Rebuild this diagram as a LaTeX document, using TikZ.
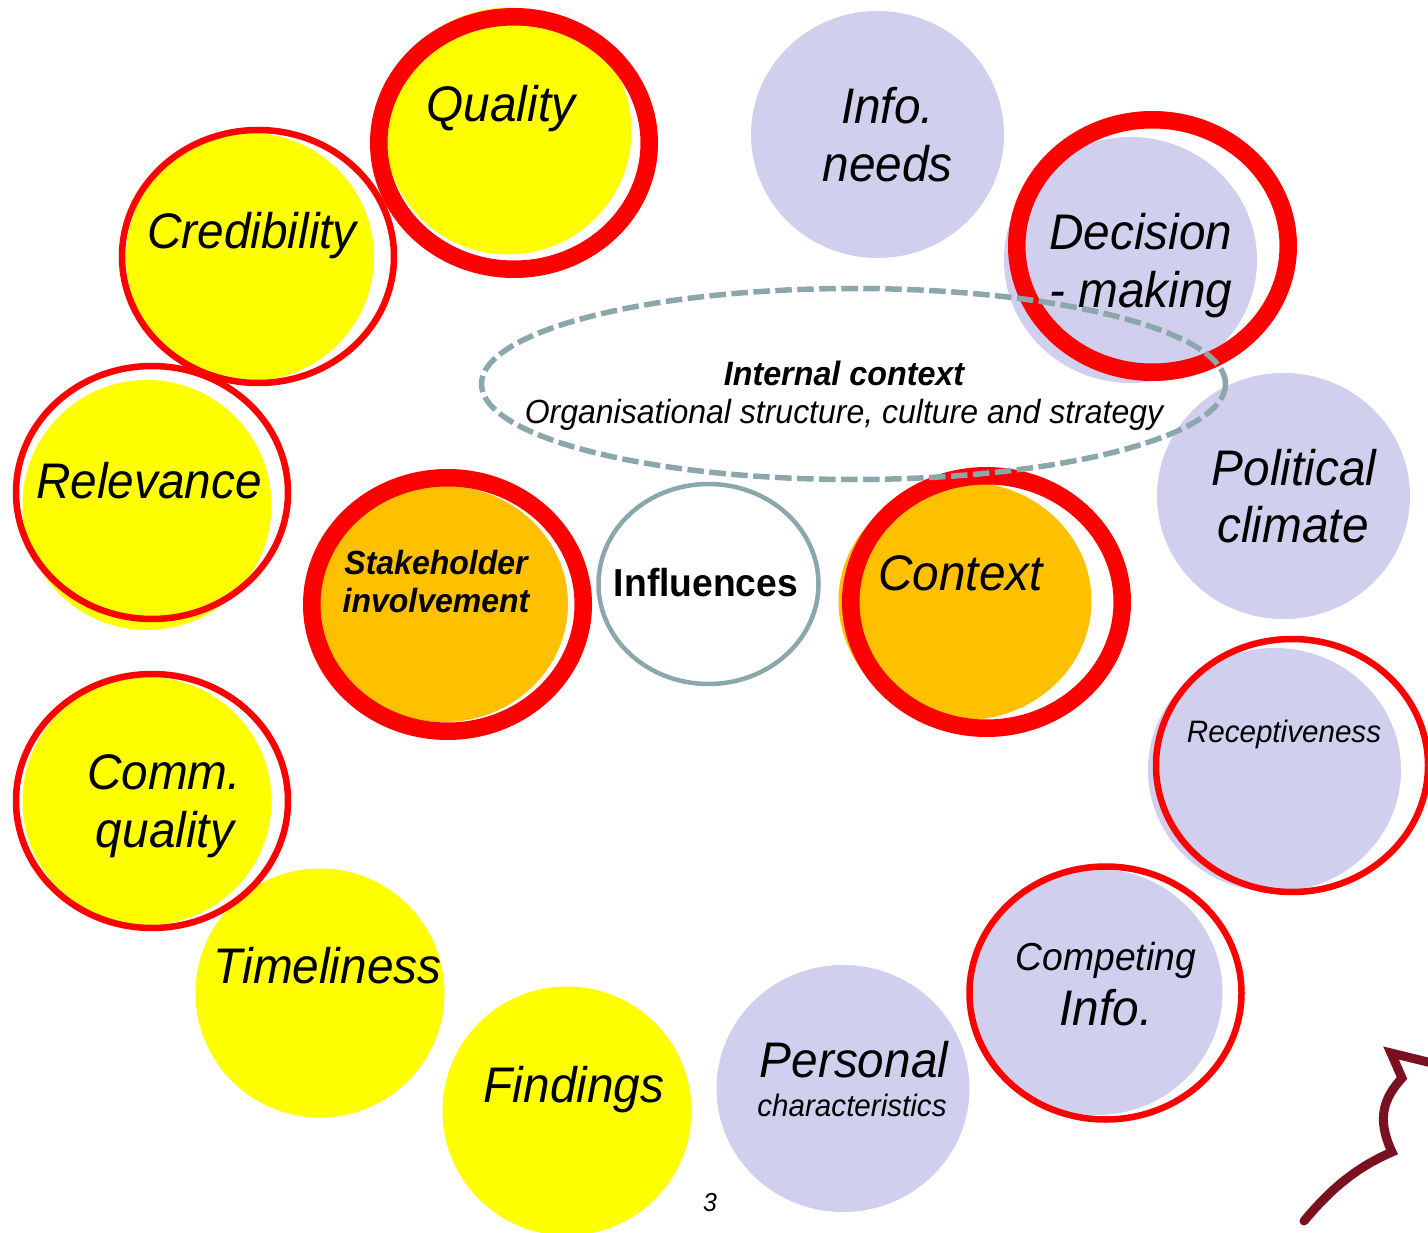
\documentclass[tikz,border=0pt]{standalone}
\usepackage{fontspec}
\setmainfont[FakeStretch=0.955]{Liberation Sans}
\definecolor{yel}{RGB}{255,255,0}
\definecolor{lav}{RGB}{208,208,238}
\definecolor{org}{RGB}{255,192,0}
\definecolor{rred}{RGB}{255,0,0}
\definecolor{grayb}{RGB}{139,167,170}
\definecolor{maroon}{RGB}{122,16,32}
\newcommand{\fsz}[1]{\fontsize{#1}{#1}\selectfont}
\tikzset{
  x=1pt,y=-1pt,
  blob/.style={fill=#1,draw=none},
  thick ring/.style={draw=rred,line width=17.5pt,fill=none},
  thin ring/.style={draw=rred,line width=6.5pt,fill=none},
  lab/.style={anchor=base,inner sep=0pt,outer sep=0pt,font=\itshape\fsz{#1}},
  lab/.default=50
}
\begin{document}
\begin{tikzpicture}
\useasboundingbox (0,0) rectangle (1428,1233);
\begin{scope}
\clip (0,0) rectangle (1428,1233);
% filled discs
\path[blob=yel] (508,131) ellipse (123.5 and 123.5);
\path[blob=yel] (250,257) ellipse (124 and 124);
\path[blob=yel] (147,505) ellipse (124.5 and 125);
\path[blob=yel] (147,801) ellipse (124.5 and 124);
\path[blob=yel] (320,993) ellipse (124.5 and 124.5);
\path[blob=yel] (567,1111) ellipse (124.5 and 124.5);
\path[blob=lav] (843,1088.5) ellipse (126.5 and 123.5);
\path[blob=lav] (1097,992) ellipse (125.5 and 123);
\path[blob=lav] (1274.5,770) ellipse (126.5 and 122);
\path[blob=lav] (1283.5,496) ellipse (126.5 and 123);
\path[blob=lav] (1130.5,260) ellipse (126.5 and 123);
\path[blob=lav] (877.5,134.5) ellipse (126.5 and 123.5);
\path[blob=org] (965,601) ellipse (126.5 and 119);
\path[blob=org] (444,604) ellipse (124 and 118);
% rings
\path[thick ring] (514,143) ellipse (135.25 and 126.25);
\path[thin ring] (258,256.5) ellipse (136 and 126.5);
\path[thin ring] (152,492.5) ellipse (136 and 126.5);
\path[thin ring] (152,801) ellipse (136 and 127);
\path[thin ring] (1105.5,993) ellipse (136 and 126.5);
\path[thin ring] (1292,765.5) ellipse (136 and 126.5);
\path[thick ring] (1152.5,246) ellipse (135.75 and 126.25);
\path[thick ring] (986.5,602) ellipse (135.75 and 126.25);
\path[thick ring] (447.5,604.5) ellipse (135.75 and 126.75);
% centre shapes
\path[draw=grayb,line width=4.5pt,fill=white] (708.5,584) ellipse (110 and 100);
\path[draw=grayb,line width=5.5pt,dash pattern=on 16.5pt off 5.5pt] (853.5,384) ellipse (372 and 95.5);
% mark
\draw[maroon,line width=9pt,line join=miter,miter limit=10,line cap=round]
  (1304,1221) .. controls (1330,1190) and (1355,1168) .. (1392,1152)
  .. controls (1376,1118) and (1384,1098) .. (1402,1078)
  -- (1391,1053) -- (1440,1065);
\end{scope}
% labels
\node[lab] (q) at (501,122) {Quality};
\node[lab] (cr) at (252,249) {Credibility};
\node[lab] (rel) at (149,498) {Relevance};
\node[lab] (cq1) at (164,789) {Comm.};
\node[lab] (cq2) at (165,847) {quality};
\node[lab] (ti) at (327.5,983) {Timeliness};
\node[lab] (fi) at (574,1102) {Findings};
\node[lab] (pe) at (854,1077) {Personal};
\node[lab=31] (ch) at (852,1116) {characteristics};
\node[lab=39] (co) at (1106,970) {Competing};
\node[lab] (inf2) at (1106,1025) {Info.};
\node[lab=31] (re) at (1284,742) {Receptiveness};
\node[lab] (po1) at (1294,485) {Political};
\node[lab] (po2) at (1293,542) {climate};
\node[lab] (de1) at (1141,249.5) {Decision};
\node[lab] (de2) at (1141,307.5) {- making};
\node[lab] (in1) at (887.5,124) {Info.};
\node[lab] (in2) at (887.5,182) {needs};
\node[lab] (cx) at (960.5,590) {Context};
\node[lab=33,font=\bfseries\itshape\fsz{33.5}] (st1) at (436,574) {Stakeholder};
\node[lab=33,font=\bfseries\itshape\fsz{33.5}] (st2) at (436,612) {involvement};
\node[lab=39,font=\bfseries\fsz{39}] (ifl) at (706,596) {Influences};
\node[lab=33,font=\bfseries\itshape\fsz{33.8}] (ic1) at (844,385.5) {Internal context};
\node[lab=33.5] (ic2) at (844,423.5) {Organisational structure, culture and strategy};
\node[lab=26] (pg) at (710,1211) {3};
\end{tikzpicture}
\end{document}
